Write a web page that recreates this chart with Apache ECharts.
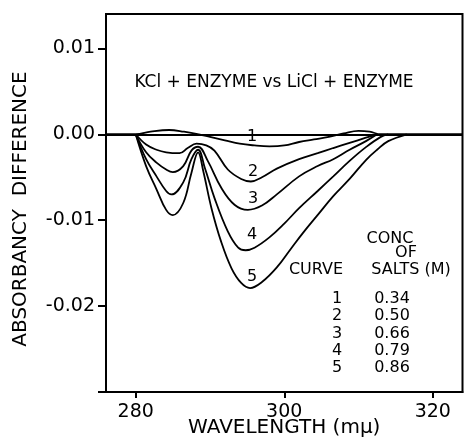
<!DOCTYPE html>
<html>
<head>
<meta charset="utf-8">
<script src="https://cdn.jsdelivr.net/npm/echarts@6/dist/echarts.min.js"></script>
<style>html,body{margin:0;padding:0;background:#fff;}#c{width:464px;height:445px;}</style>
</head>
<body>
<div id="c"></div>
<script>
// Data
const wl1 = [276, 280, 282, 284.5, 286.5, 288.5, 290, 292, 294, 296, 298, 300, 302, 304, 306, 308, 310, 311.5, 313, 324];
const ab1 = [0, 0, 0.0003, 0.0005, 0.0003, 0, -0.0003, -0.0007, -0.0011, -0.0013, -0.0014, -0.0013, -0.0009, -0.0006, -0.0003, 0.0001, 0.0004, 0.0003, 0, 0];

const wl2 = [280, 281.4, 282.8, 284.1, 285.9, 287, 288.2, 289.5, 290.6, 292.4, 294.2, 295.5, 297, 299, 302, 304.5, 306.6, 308.8, 311, 312.5];
const ab2 = [0, -0.0012, -0.0018, -0.0021, -0.0022, -0.0016, -0.0011, -0.0013, -0.0019, -0.0041, -0.0052, -0.0055, -0.0050, -0.0040, -0.0029, -0.0022, -0.0016, -0.0010, -0.0004, 0];

const wl3 = [280, 281.4, 282.8, 284.1, 285, 286.4, 287.5, 288.4, 289.7, 291.5, 293.3, 295.1, 297, 299, 302, 304.5, 306.6, 308.8, 311, 312.5];
const ab3 = [0, -0.0021, -0.0033, -0.0041, -0.0044, -0.0037, -0.0019, -0.00145, -0.0031, -0.0062, -0.0082, -0.0088, -0.0083, -0.0070, -0.0049, -0.0037, -0.0029, -0.0018, -0.0008, 0];

const wl4 = [280, 281.4, 282.8, 284.1, 284.8, 286.4, 287.5, 288.4, 289.3, 290.6, 292.4, 293.8, 294.8, 296, 298, 300, 302, 304.5, 306.6, 308.8, 311, 313, 314];
const ab4 = [0, -0.0029, -0.0049, -0.0066, -0.0070, -0.0056, -0.0029, -0.0018, -0.0039, -0.0074, -0.0113, -0.0132, -0.0135, -0.0132, -0.0120, -0.0104, -0.0086, -0.0066, -0.0049, -0.0031, -0.0015, -0.0003, 0];

const wl5 = [280, 281.4, 282.8, 284.1, 285, 286.4, 287.5, 288.4, 289.1, 290.2, 291.5, 292.9, 294.2, 295.4, 297, 299, 301, 302.5, 304.4, 306.6, 308.8, 311, 312.5, 314, 316.5];
const ab5 = [0, -0.0037, -0.0064, -0.0088, -0.0094, -0.0080, -0.0045, -0.0021, -0.0043, -0.0086, -0.0125, -0.0156, -0.0173, -0.0179, -0.0172, -0.0155, -0.0132, -0.0115, -0.0095, -0.0072, -0.0052, -0.0030, -0.0018, -0.0008, 0];

const xTicks = [280, 300, 320];
const yTicks = [-0.03, -0.02, -0.01, 0, 0.01];
const yLabels = [-0.02, -0.01, 0, 0.01];

const curveNames = ['1', '2', '3', '4', '5'];
const concs = ['0.34', '0.50', '0.66', '0.79', '0.86'];
const title = 'KCl + ENZYME vs LiCl + ENZYME';

const FONT = 'DejaVu Sans';
const pair = (xs, ys) => xs.map((x, i) => [x, ys[i]]);
const lineSeries = (xs, ys, extra) => Object.assign({
  type: 'line', data: pair(xs, ys), smooth: 0.4, symbol: 'none',
  lineStyle: { color: '#000', width: 1.8 }, silent: true
}, extra || {});

const chart = echarts.init(document.getElementById('c'));

const txt = (text, x, y, size) => ({ type: 'text', style: { text: text, x: x, y: y, align: 'center', verticalAlign: 'middle', font: size + 'px ' + FONT, fill: '#000' } });
const graphic = [];
graphic.push(txt(title, 274, 83, 17));
const numPos = [[252, 137], [253, 172], [253, 199], [252, 235], [252, 277]];
curveNames.forEach((n, i) => graphic.push(txt(n, numPos[i][0], numPos[i][1], 16)));
graphic.push(txt('CONC', 390, 239, 16));
graphic.push(txt('OF', 406, 253, 16));
graphic.push(txt('CURVE', 316, 270, 16));
graphic.push(txt('SALTS (M)', 411, 270, 16));
curveNames.forEach((n, i) => {
  const y = 299 + i * 17.2;
  graphic.push(txt(n, 337, y, 16));
  graphic.push(txt(concs[i], 392, y, 16));
});

chart.setOption({
  animation: false,
  backgroundColor: '#fff',
  grid: { left: 106, top: 14, right: 1.5, bottom: 53, outerBoundsMode: 'none', containLabel: false, show: true, borderColor: '#000', borderWidth: 2, backgroundColor: 'transparent' },
  xAxis: {
    type: 'value', min: 276, max: 324,
    name: 'WAVELENGTH (mμ)', nameLocation: 'middle', nameGap: 26, nameMoveOverlap: false,
    nameTextStyle: { color: '#000', fontSize: 20, fontFamily: FONT },
    axisLine: { onZero: false, lineStyle: { color: '#000', width: 2 } },
    axisTick: { show: true, length: 6, lineStyle: { color: '#000', width: 2 }, customValues: xTicks },
    axisLabel: { color: '#000', fontSize: 19, fontFamily: FONT, margin: 11, customValues: xTicks },
    splitLine: { show: false }
  },
  yAxis: {
    type: 'value', min: -0.03, max: 0.014,
    name: 'ABSORBANCY  DIFFERENCE', nameLocation: 'middle', nameGap: 75, nameRotate: 90, nameMoveOverlap: false,
    nameTextStyle: { color: '#000', fontSize: 20, fontFamily: FONT, padding: [0, 12, 0, 0] },
    axisLine: { show: true, onZero: false, lineStyle: { color: '#000', width: 2 } },
    axisTick: { show: true, length: 8, lineStyle: { color: '#000', width: 2 }, customValues: yTicks },
    axisLabel: { color: '#000', fontSize: 19, fontFamily: FONT, margin: 11, customValues: yLabels, formatter: v => v.toFixed(2) },
    splitLine: { show: false }
  },
  series: [
    lineSeries(wl1, ab1, {
      markLine: { silent: true, symbol: 'none', label: { show: false }, lineStyle: { color: '#000', width: 2, type: 'solid' }, data: [{ yAxis: 0 }] }
    }),
    lineSeries(wl2, ab2),
    lineSeries(wl3, ab3),
    lineSeries(wl4, ab4),
    lineSeries(wl5, ab5)
  ],
  graphic: graphic
});
</script>
</body>
</html>
